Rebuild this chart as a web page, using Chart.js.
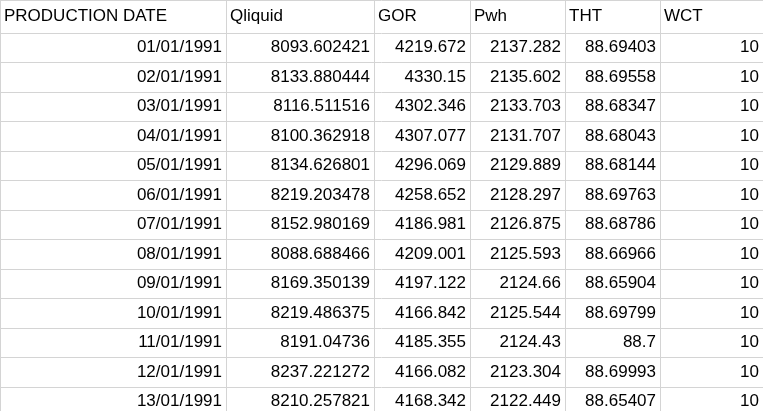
<!DOCTYPE html>
<html lang="en">
<head>
<meta charset="UTF-8">
<title>Production table</title>
<script src="https://cdn.jsdelivr.net/npm/chart.js"></script>
<style>
  html, body { margin: 0; padding: 0; background: #fff; }
  #wrap { width: 763px; height: 411px; }
</style>
</head>
<body>
<div id="wrap"><canvas id="tableChart"></canvas></div>
<script>
// Table data
const headers = ['PRODUCTION DATE', 'Qliquid', 'GOR', 'Pwh', 'THT', 'WCT'];
const productionDate = ['01/01/1991','02/01/1991','03/01/1991','04/01/1991','05/01/1991','06/01/1991','07/01/1991','08/01/1991','09/01/1991','10/01/1991','11/01/1991','12/01/1991','13/01/1991'];
const qliquid = ['8093.602421','8133.880444','8116.511516','8100.362918','8134.626801','8219.203478','8152.980169','8088.688466','8169.350139','8219.486375','8191.04736','8237.221272','8210.257821'];
const gor = ['4219.672','4330.15','4302.346','4307.077','4296.069','4258.652','4186.981','4209.001','4197.122','4166.842','4185.355','4166.082','4168.342'];
const pwh = ['2137.282','2135.602','2133.703','2131.707','2129.889','2128.297','2126.875','2125.593','2124.66','2125.544','2124.43','2123.304','2122.449'];
const tht = ['88.69403','88.69558','88.68347','88.68043','88.68144','88.69763','88.68786','88.66966','88.65904','88.69799','88.7','88.69993','88.65407'];
const wct = ['10','10','10','10','10','10','10','10','10','10','10','10','10'];

const columns = [productionDate, qliquid, gor, pwh, tht, wct];
// column edges and row edges in sheet units (pixels of the sheet)
const colEdges = [0, 226, 374, 470, 565, 660, 763];
const rowEdges = [0, 33];
for (let i = 1; i <= 13; i++) rowEdges.push(33 + i * 29.5);

const cellText = {
  id: 'cellText',
  afterDraw(chart) {
    const { ctx, scales: { x, y } } = chart;
    ctx.save();
    ctx.font = '17px "Liberation Sans", Arial, sans-serif';
    ctx.fillStyle = '#000';
    ctx.textBaseline = 'middle';
    // header row
    ctx.textAlign = 'left';
    headers.forEach((h, c) => {
      ctx.fillText(h, x.getPixelForValue(colEdges[c]) + 4,
        (y.getPixelForValue(rowEdges[0]) + y.getPixelForValue(rowEdges[1])) / 2);
    });
    // body rows, right aligned
    ctx.textAlign = 'right';
    columns.forEach((col, c) => {
      col.forEach((v, r) => {
        const ym = (y.getPixelForValue(rowEdges[r + 1]) + y.getPixelForValue(rowEdges[r + 2])) / 2;
        ctx.fillText(v, x.getPixelForValue(colEdges[c + 1]) - 4, ym);
      });
    });
    ctx.restore();
  }
};

new Chart(document.getElementById('tableChart'), {
  type: 'scatter',
  data: { datasets: [{ data: [], pointRadius: 0 }] },
  options: {
    responsive: true,
    maintainAspectRatio: false,
    animation: false,
    layout: { padding: 0 },
    plugins: { legend: { display: false }, tooltip: { enabled: false } },
    scales: {
      x: {
        type: 'linear', min: 0, max: 763,
        afterBuildTicks: a => { a.ticks = colEdges.map(v => ({ value: v })); },
        ticks: { display: false },
        grid: { color: '#d4d4d4', drawTicks: false },
        border: { display: false }
      },
      y: {
        type: 'linear', min: 0, max: 411, reverse: true,
        afterBuildTicks: a => { a.ticks = rowEdges.map(v => ({ value: v })); },
        ticks: { display: false },
        grid: { color: '#d4d4d4', drawTicks: false },
        border: { display: false }
      }
    }
  },
  plugins: [cellText]
});
</script>
</body>
</html>
